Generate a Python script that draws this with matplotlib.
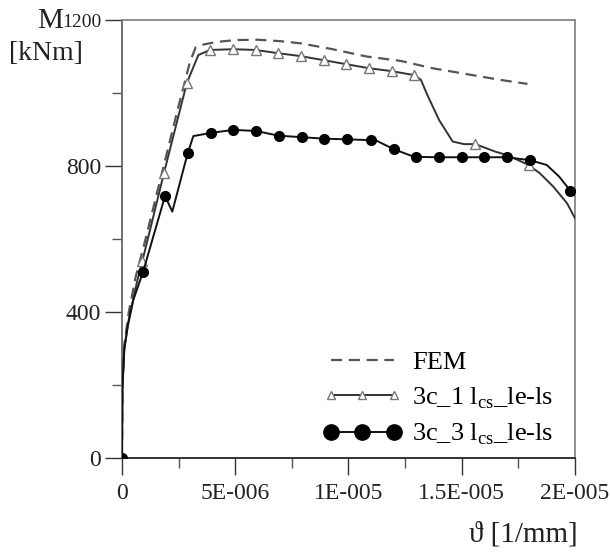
import matplotlib
matplotlib.use("Agg")
import matplotlib.pyplot as plt
from matplotlib.ticker import MultipleLocator, FixedLocator

plt.rcParams['font.family'] = ['Liberation Serif', 'DejaVu Serif']
plt.rcParams['mathtext.fontset'] = 'custom'
plt.rcParams['mathtext.rm'] = 'Liberation Serif'

# FEM curve
fem_x = [0, 0.02e-6, 0.1e-6, 0.3e-6, 0.6e-6, 1.0e-6, 1.5e-6, 2.0e-6, 2.5e-6, 3.0e-6, 3.25e-6,
         3.6e-6, 4.2e-6, 5.0e-6, 6.0e-6, 7.0e-6, 7.9e-6, 9.3e-6, 10.8e-6, 12.3e-6, 13.7e-6,
         15.2e-6, 16.7e-6, 17.9e-6]
fem_m = [0, 200, 310, 400, 495, 590, 715, 840, 965, 1085, 1125,
         1133, 1140, 1145, 1146, 1142, 1136, 1120, 1100, 1088, 1068,
         1052, 1036, 1025]

# 3c_1 lcs_le-ls
c1_x = [0, 0.02e-6, 0.1e-6, 0.3e-6, 0.65e-6, 0.9e-6, 1.38e-6, 1.85e-6, 2.86e-6, 3.37e-6,
        3.88e-6, 4.9e-6, 5.9e-6, 6.9e-6, 7.9e-6, 8.9e-6, 9.9e-6, 10.9e-6, 11.9e-6, 12.9e-6,
        13.2e-6, 13.45e-6, 14.0e-6, 14.6e-6, 15.1e-6, 15.6e-6, 16.5e-6, 17.0e-6, 17.95e-6,
        18.45e-6, 19.05e-6, 19.65e-6, 20.0e-6]
c1_m = [0, 190, 300, 380, 479, 540, 661, 780, 1027, 1104,
        1118, 1120, 1118, 1109, 1101, 1090, 1079, 1068, 1060, 1049,
        1036, 999, 926, 867, 860, 860, 839, 830, 803,
        780, 743, 698, 657]
c1_marks = [0, 5, 7, 8, 10, 11, 12, 13, 14, 15, 16, 17, 18, 19, 25, 28]

# 3c_3 lcs_le-ls
c3_x = [0, 0.02e-6, 0.1e-6, 0.25e-6, 0.5e-6, 0.93e-6, 1.9e-6, 2.22e-6, 2.9e-6, 3.15e-6,
        3.95e-6, 4.92e-6, 5.92e-6, 6.92e-6, 7.93e-6, 8.92e-6, 9.92e-6, 10.98e-6, 11.25e-6,
        12.0e-6, 12.86e-6, 13.0e-6, 14.0e-6, 15.0e-6, 16.0e-6, 17.0e-6, 18.0e-6, 18.75e-6,
        19.3e-6, 19.8e-6, 20.0e-6]
c3_m = [0, 195, 296, 360, 433, 510, 718, 675, 835, 882,
        891, 899, 896, 883, 879, 875, 873, 871, 869,
        846, 826, 825, 824, 824, 824, 824, 816, 803,
        771, 732, 720]
c3_marks = [0, 5, 6, 8, 10, 11, 12, 13, 14, 15, 16, 17, 19, 21, 22, 23, 24, 25, 26, 29]

x_ticks = [0, 5e-6, 1e-5, 1.5e-5, 2e-5]
x_ticklabels = ["0", "5E-006", "1E-005", "1.5E-005", "2E-005"]
y_ticks = [0, 400, 800, 1200]
y_ticklabels = ["0", "400", "800", "1200"]

fig = plt.figure(figsize=(6.1, 5.53), dpi=100)
ax = fig.add_axes([0.2, 0.1718, 0.7426, 0.792])

ax.plot(fem_x, fem_m, color='#555555', lw=1.6, dashes=(5, 3), label='FEM', zorder=2)
ax.plot(c1_x, c1_m, color='#333333', lw=1.4, marker='^', markevery=c1_marks,
        markersize=7, markerfacecolor='white', markeredgecolor='#777777', markeredgewidth=1.0,
        label='3c_1 l$_{\\mathregular{cs}}$_le-ls', zorder=3)
ax.plot(c3_x, c3_m, color='#111111', lw=1.4, marker='o', markevery=c3_marks,
        markersize=7, markerfacecolor='black', markeredgecolor='black',
        label='3c_3 l$_{\\mathregular{cs}}$_le-ls', zorder=4)

ax.set_xlim(0, 2e-5)
ax.set_ylim(0, 1200)
ax.xaxis.set_major_locator(FixedLocator(x_ticks))
ax.set_xticklabels(x_ticklabels)
ax.xaxis.set_minor_locator(MultipleLocator(2.5e-6))
ax.yaxis.set_major_locator(FixedLocator(y_ticks))
ax.set_yticklabels(y_ticklabels)
ax.yaxis.set_minor_locator(MultipleLocator(200))
ax.tick_params(which='major', direction='out', length=12, width=1.0, labelsize=17,
               colors='#333333', labelcolor='#222222')
ax.tick_params(which='minor', direction='out', length=7, width=1.0, colors='#555555')
ax.tick_params(axis='x', pad=6)
ax.tick_params(axis='y', pad=3)
ax.get_yticklabels()[-1].set_fontsize(14)

for s in ['top', 'right']:
    ax.spines[s].set_color('#888888')
    ax.spines[s].set_linewidth(1.3)
ax.spines['left'].set_color('#666666')
ax.spines['left'].set_linewidth(1.3)
ax.spines['bottom'].set_color('#222222')
ax.spines['bottom'].set_linewidth(1.3)

leg = ax.legend(loc='lower left', bbox_to_anchor=(0.42, 0.0), frameon=False,
                fontsize=19, numpoints=3, handlelength=3.0, handletextpad=0.38,
                labelspacing=0.42, borderaxespad=0)
leg.legend_handles[2].set_markersize(11)
leg.legend_handles[1].set_markersize(6)

fig.text(50 / 610, 1 - 21 / 553, 'M', fontsize=21, ha='center', va='center', color='#222222')
fig.text(46 / 610, 1 - 53 / 553, '[kNm]', fontsize=20, ha='center', va='center', color='#222222')
fig.text(578 / 610, 1 - 535 / 553, 'ϑ [1/mm]', fontsize=21, ha='right', va='center', color='#222222')

fig.savefig('out.png', dpi=100)
